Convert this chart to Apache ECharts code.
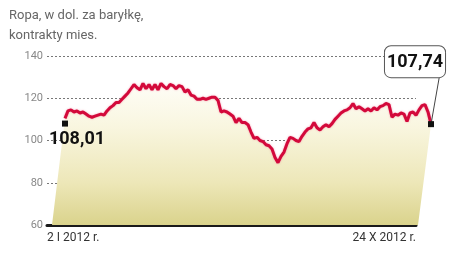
<!DOCTYPE html>
<html><head><meta charset="utf-8">
<script src="https://cdn.jsdelivr.net/npm/echarts@6/dist/echarts.min.js"></script>
<style>html,body{margin:0;padding:0;background:#fff}#c{width:456px;height:258px}</style>
</head><body><div id="c"></div>
<script>
const titleText = 'Ropa, w dol. za baryłkę,\nkontrakty mies.';
const xLabels = ['2 I 2012 r.', '24 X 2012 r.'];
const yMin = 60, yMax = 140, yStep = 20;
const prices = [
 110.5,114,114.5,113.5,114,113,113.5,112.5,111.5,111,111.5,112,112.5,112,114,115.5,116.5,118,118,119.5,
 121,122.5,124.5,126.5,125,124,127,124.5,126.5,124,126.5,124,127,125.5,124.5,126.5,126,124.5,126,125.5,
 123,124,121.5,121,119.5,119.5,120,119.5,120,120.5,120.5,119,113.5,114,113.5,112.5,111.5,108.5,110.5,108.5,
 108.5,107.5,104,101,101.5,100,99.5,98,97.5,96,92,89.5,92.5,94.5,98.5,101.5,101,100,99.5,102,
 104,105.5,106,108.5,106,105,106.5,107.5,106.5,108,110,111.5,113,114,114.5,115.5,117.5,115,116,115,
 114,115,114,115.5,114.5,116,116.5,117.5,117,111,112.5,112,113,112.5,109,113,113.5,112,114.5,116.5,
 117,113.5,107.74
];
const startValue = 108.01;
const endValue = 107.74;
const startLabel = '108,01';
const endLabel = '107,74';

const font = "Roboto,'Noto Sans',sans-serif";
const idx = prices.map((_, i) => i);
const last = prices.length - 1;
const SHEAR = -13;

const chart = echarts.init(document.getElementById('c'), null, {renderer: 'canvas'});
chart.setOption({
  animation: false,
  title: {
    text: titleText, left: 4, top: 1,
    textStyle: {fontFamily: font, fontSize: 13, fontWeight: 'normal', color: '#666', lineHeight: 20}
  },
  grid: [
    {left: 47, right: 40, top: 56, bottom: 33},
    {left: 65, right: 25, top: 56, bottom: 33}
  ],
  xAxis: [
    {gridIndex: 0, type: 'category', data: xLabels, boundaryGap: false,
     axisLine: {lineStyle: {color: '#1a1a1a', width: 3}}, axisTick: {show: false},
     axisLabel: {color: '#333', fontFamily: font, fontSize: 12, margin: 7,
                 alignMinLabel: 'left', alignMaxLabel: 'right', showMinLabel: true, showMaxLabel: true},
     splitLine: {show: false}},
    {gridIndex: 1, type: 'category', data: idx, boundaryGap: false, show: false}
  ],
  yAxis: [
    {gridIndex: 0, type: 'value', min: yMin, max: yMax, interval: yStep,
     axisLine: {show: false}, axisTick: {show: false},
     axisLabel: {color: '#888', fontFamily: font, fontSize: 11, margin: 4},
     splitLine: {lineStyle: {color: '#777', type: [2, 2], width: 1}}},
    {gridIndex: 1, type: 'value', min: yMin, max: yMax, show: false}
  ],
  series: [
    {
      type: 'custom', xAxisIndex: 1, yAxisIndex: 1, data: [0], silent: true, z: 1,
      renderItem: function (params, api) {
        const pts = prices.map((v, i) => api.coord([i, v]));
        const br = api.coord([last, yMin]); br[0] += SHEAR;
        const bl = api.coord([0, yMin]); bl[0] += SHEAR;
        pts.push(br, bl);
        return {
          type: 'polygon', shape: {points: pts},
          style: {fill: new echarts.graphic.LinearGradient(0, 0, 0, 1, [
            {offset: 0, color: '#fefdf7'},
            {offset: 0.3, color: '#f9f6e0'},
            {offset: 0.7, color: '#ede7b8'},
            {offset: 1, color: '#dad38c'}
          ])}
        };
      }
    },
    {
      type: 'line', xAxisIndex: 1, yAxisIndex: 1, data: prices, symbol: 'none', z: 3,
      lineStyle: {color: '#d3093b', width: 3, shadowColor: 'rgba(240,110,140,0.7)', shadowBlur: 2},
      markPoint: {
        symbol: 'rect', symbolSize: 6, itemStyle: {color: '#111'},
        data: [
          {coord: [0, startValue], label: {show: true, formatter: startLabel, position: 'bottom', offset: [12, -1],
            color: '#111', fontFamily: font, fontWeight: 'bold', fontSize: 18}},
          {coord: [last, endValue], label: {show: true, formatter: endLabel, position: 'top', offset: [-16, -39],
            color: '#111', fontFamily: font, fontWeight: 'bold', fontSize: 18, lineHeight: 22,
            backgroundColor: '#fff', borderColor: '#555', borderWidth: 1, borderRadius: 6, padding: [5, 2, 4, 2]}}
        ]
      },
      markLine: {
        silent: true, symbol: 'none', label: {show: false},
        lineStyle: {color: '#444', width: 1, type: 'solid'},
        data: [[{coord: [last, endValue]}, {x: 440, y: 73}]]
      }
    }
  ]
});
</script></body></html>
